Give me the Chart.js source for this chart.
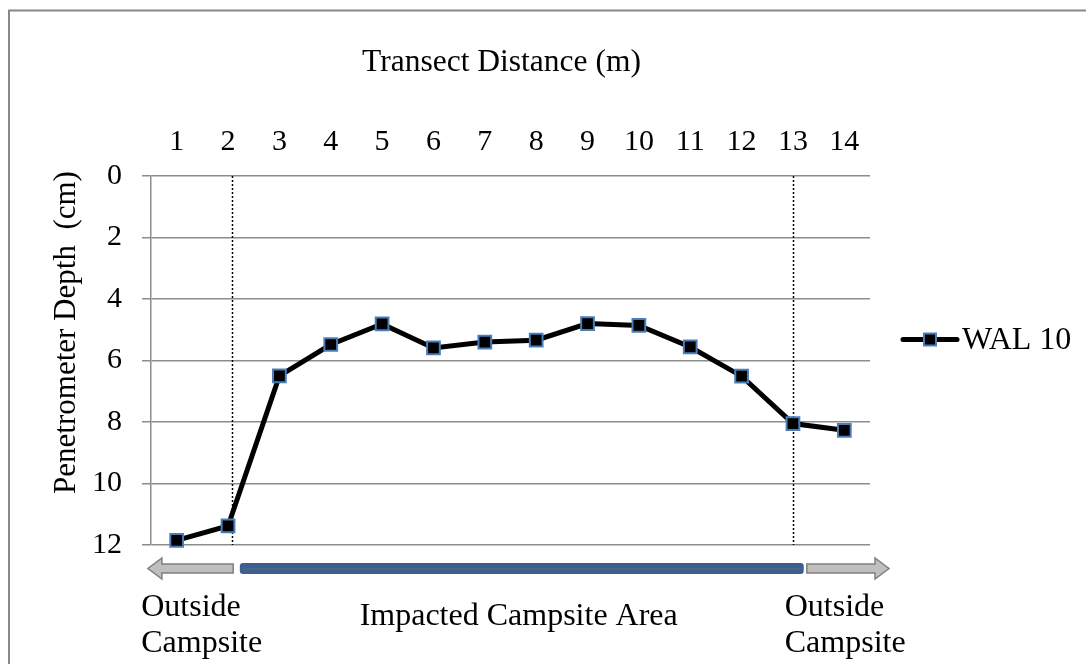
<!DOCTYPE html>
<html>
<head>
<meta charset="utf-8">
<script src="https://cdn.jsdelivr.net/npm/chart.js@4.4.1/dist/chart.umd.min.js"></script>
<style>
  html, body { margin: 0; padding: 0; background: #ffffff; }
  #wrap { width: 1086px; height: 664px; position: relative; }
</style>
</head>
<body>
<div id="wrap"><canvas id="chart" width="1086" height="664"></canvas></div>
<script>
// Transect positions (m) and penetrometer depth readings (cm)
const distances = ['1', '2', '3', '4', '5', '6', '7', '8', '9', '10', '11', '12', '13', '14'];
const depthWAL10 = [11.85, 11.38, 6.5, 5.48, 4.81, 5.59, 5.4, 5.34, 4.8, 4.86, 5.56, 6.51, 8.05, 8.27];
const seriesName = 'WAL 10';
const depthTickValues = [0, 2, 4, 6, 8, 10, 12];
const xAxisTitle = 'Transect Distance (m)';
const yAxisTitle = 'Penetrometer Depth  (cm)';

// Campsite edges along the transect (m)
const campsiteEdges = [2.07, 13];

// Zone bands under the plot, in transect metres
const zoneBands = [
  { kind: 'arrowLeft',  from: 0.44,  to: 2.1 },
  { kind: 'bar',        from: 2.23,  to: 13.21 },
  { kind: 'arrowRight', from: 13.27, to: 14.87 }
];
const zoneLabels = [
  { lines: ['Outside', 'Campsite'], at: 0.31, align: 'left' },
  { lines: ['Impacted Campsite Area'], at: 7.66, align: 'center' },
  { lines: ['Outside', 'Campsite'], at: 12.84, align: 'left' }
];

const FONT = "'Liberation Serif', 'Times New Roman', serif";
const GRID = '#8c8c8c';

// metres -> pixel via the category scale (index = metres - 1)
function metresToPx(scale, m) {
  const p0 = scale.getPixelForValue(0);
  const p1 = scale.getPixelForValue(1);
  return p0 + (m - 1) * (p1 - p0);
}

const framePlugin = {
  id: 'frame',
  beforeDraw(chart) {
    const ctx = chart.ctx;
    ctx.save();
    ctx.fillStyle = '#ffffff';
    ctx.fillRect(0, 0, chart.width, chart.height);
    ctx.strokeStyle = '#888888';
    ctx.lineWidth = 2;
    ctx.beginPath();
    ctx.moveTo(9, chart.height + 5);
    ctx.lineTo(9, 10.5);
    ctx.lineTo(chart.width + 5, 10.5);
    ctx.stroke();
    ctx.restore();
  }
};

// Axis titles: x title above the tick row, y title rotated left of the depth ticks
const axisTitlesPlugin = {
  id: 'axisTitles',
  afterDraw(chart) {
    const { ctx, chartArea } = chart;
    ctx.save();
    ctx.fillStyle = '#000000';
    ctx.textAlign = 'center';
    ctx.textBaseline = 'middle';
    ctx.font = '31.5px ' + FONT;
    ctx.fillText(xAxisTitle, (chartArea.left + chartArea.right) / 2 - 9, chartArea.top - 113);
    ctx.font = '31px ' + FONT;
    ctx.translate(chartArea.left - 84, (chartArea.top + chartArea.bottom) / 2 - 28);
    ctx.rotate(-Math.PI / 2);
    ctx.fillText(yAxisTitle, 0, 0);
    ctx.restore();
  }
};

const edgesPlugin = {
  id: 'campsiteEdges',
  beforeDatasetsDraw(chart) {
    const { ctx, chartArea } = chart;
    const xs = chart.scales.x;
    ctx.save();
    ctx.strokeStyle = '#000000';
    ctx.lineWidth = 1.5;
    ctx.setLineDash([2, 2]);
    campsiteEdges.forEach(m => {
      const x = Math.round(metresToPx(xs, m)) + 0.5;
      ctx.beginPath();
      ctx.moveTo(x, chartArea.top);
      ctx.lineTo(x, chartArea.bottom);
      ctx.stroke();
    });
    ctx.restore();
  }
};

function drawArrow(ctx, xTail, xTip, y) {
  const dir = xTip > xTail ? 1 : -1;
  const headLen = 14, bodyH = 9, headH = 21;
  const xNeck = xTip - dir * headLen;
  ctx.beginPath();
  ctx.moveTo(xTail, y - bodyH / 2);
  ctx.lineTo(xNeck, y - bodyH / 2);
  ctx.lineTo(xNeck, y - headH / 2);
  ctx.lineTo(xTip, y);
  ctx.lineTo(xNeck, y + headH / 2);
  ctx.lineTo(xNeck, y + bodyH / 2);
  ctx.lineTo(xTail, y + bodyH / 2);
  ctx.closePath();
  ctx.fillStyle = '#bfbfbf';
  ctx.fill();
  ctx.strokeStyle = '#7f7f7f';
  ctx.lineWidth = 1.5;
  ctx.stroke();
}

const zonesPlugin = {
  id: 'zones',
  afterDraw(chart) {
    const { ctx, chartArea } = chart;
    const xs = chart.scales.x;
    const yBand = chartArea.bottom + 23.5;
    ctx.save();
    zoneBands.forEach(b => {
      const a = metresToPx(xs, b.from);
      const c = metresToPx(xs, b.to);
      if (b.kind === 'arrowLeft') {
        drawArrow(ctx, c, a, yBand);
      } else if (b.kind === 'arrowRight') {
        drawArrow(ctx, a, c, yBand);
      } else {
        const h = 11;
        ctx.beginPath();
        ctx.roundRect(a, yBand - h / 2, c - a, h, 3);
        ctx.fillStyle = '#3d5f8e';
        ctx.fill();
        ctx.strokeStyle = '#5b6d84';
        ctx.lineWidth = 1;
        ctx.beginPath();
        ctx.moveTo(a + 3, yBand + 0.5);
        ctx.lineTo(c - 3, yBand + 0.5);
        ctx.stroke();
      }
    });
    ctx.fillStyle = '#000000';
    ctx.font = '32px ' + FONT;
    ctx.textBaseline = 'alphabetic';
    zoneLabels.forEach(l => {
      const x = metresToPx(xs, l.at);
      ctx.textAlign = l.align;
      const firstBase = l.lines.length > 1 ? chartArea.bottom + 71 : chartArea.bottom + 80;
      l.lines.forEach((t, i) => ctx.fillText(t, x, firstBase + i * 36));
    });
    ctx.restore();
  }
};

const legendPlugin = {
  id: 'sideLegend',
  afterDraw(chart) {
    const ctx = chart.ctx;
    const ds = chart.data.datasets[0];
    const x0 = 903, x1 = 957, y = 339.5;
    ctx.save();
    ctx.strokeStyle = ds.borderColor;
    ctx.lineWidth = ds.borderWidth;
    ctx.lineCap = 'round';
    ctx.beginPath();
    ctx.moveTo(x0, y);
    ctx.lineTo(x1, y);
    ctx.stroke();
    const s = 12;
    const cx = (x0 + x1) / 2;
    ctx.fillStyle = ds.pointBackgroundColor;
    ctx.fillRect(cx - s / 2, y - s / 2, s, s);
    ctx.strokeStyle = ds.pointBorderColor;
    ctx.lineWidth = ds.pointBorderWidth;
    ctx.strokeRect(cx - s / 2, y - s / 2, s, s);
    ctx.fillStyle = '#000000';
    ctx.font = '32px ' + FONT;
    ctx.textAlign = 'left';
    ctx.textBaseline = 'middle';
    ctx.fillText(ds.label, 962, y + 1);
    ctx.restore();
  }
};

new Chart(document.getElementById('chart'), {
  type: 'line',
  data: {
    labels: distances,
    datasets: [{
      label: seriesName,
      data: depthWAL10,
      borderColor: '#000000',
      borderWidth: 5,
      pointStyle: 'rect',
      pointRadius: 9,
      pointHoverRadius: 9,
      pointBackgroundColor: '#000000',
      pointBorderColor: '#4a7ebb',
      pointBorderWidth: 2,
      tension: 0,
      clip: false
    }]
  },
  options: {
    responsive: false,
    animation: false,
    devicePixelRatio: 1,
    layout: { padding: { left: 0, top: 0, right: 216, bottom: 119 } },
    plugins: {
      legend: { display: false },
      tooltip: { enabled: false }
    },
    scales: {
      x: {
        type: 'category',
        position: 'top',
        offset: true,
        grid: { display: false, drawTicks: false },
        border: { display: false },
        ticks: {
          color: '#000000',
          font: { family: FONT, size: 30 },
          padding: 16,
          maxRotation: 0,
          autoSkip: false
        },
        afterFit(scale) { scale.height = 176; }
      },
      y: {
        reverse: true,
        min: 0,
        max: 12,
        afterBuildTicks(scale) {
          scale.ticks = depthTickValues.map(v => ({ value: v }));
        },
        grid: {
          color: GRID,
          lineWidth: 1.5,
          drawTicks: true,
          tickLength: 9,
          tickColor: GRID
        },
        border: { display: true, color: GRID, width: 1.5 },
        ticks: {
          color: '#000000',
          font: { family: FONT, size: 30 },
          padding: 20
        },
        afterFit(scale) { scale.width = 151; }
      }
    }
  },
  plugins: [framePlugin, axisTitlesPlugin, edgesPlugin, zonesPlugin, legendPlugin]
});
</script>
</body>
</html>
